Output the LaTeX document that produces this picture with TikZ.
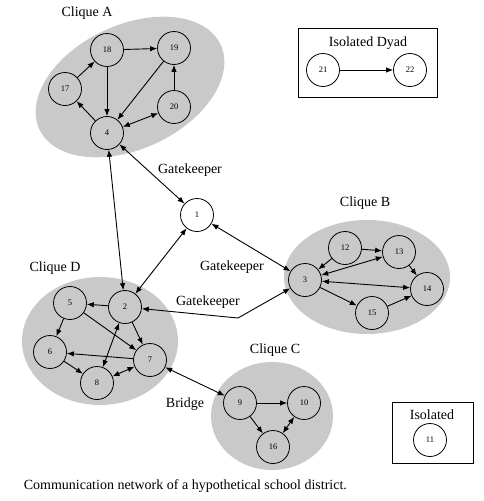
\documentclass[tikz,border=0pt]{standalone}
\usepackage{fontspec}
\setmainfont{Liberation Serif}
\usetikzlibrary{arrows.meta,shapes.geometric}

\begin{document}
\begin{tikzpicture}[x=1pt,y=-1pt,>={Latex[length=7pt,width=5.5pt]},line width=0.9pt,
  main node/.style={circle,draw,line width=0.8pt,minimum size=33pt,inner sep=0pt,font=\fontsize{8.5}{10}\selectfont},
  clique/.style={ellipse,fill=black!21,draw=none,inner sep=0pt},
  tag/.style={font=\fontsize{14}{16}\selectfont},
  framebox/.style={draw,line width=0.8pt,inner sep=0pt}]

  \useasboundingbox (0,0) rectangle (484,501);

  % cliques
  \node[clique,minimum width=200pt,minimum height=124pt,rotate=25] (cA) at (130,87) {};
  \node[clique,minimum width=166pt,minimum height=114pt] (cB) at (367,277) {};
  \node[clique,minimum width=122pt,minimum height=108pt] (cC) at (272,416) {};
  \node[clique,minimum width=156pt,minimum height=128pt] (cD) at (100,341) {};

  % boxes
  \node[framebox,minimum width=139pt,minimum height=69pt] (dyadbox) at (367.5,62.5) {};
  \node[framebox,minimum width=81pt,minimum height=61pt] (isobox) at (432.5,432.5) {};

  % labels
  \node[tag] (tA) at (87,13) {Clique A};
  \node[tag] (tB) at (365,203) {Clique B};
  \node[tag] (tC) at (275,350) {Clique C};
  \node[tag] (tD) at (55,268) {Clique D};
  \node[tag] (tdyad) at (368,43) {Isolated Dyad};
  \node[tag] (tiso) at (432,415) {Isolated};
  \node[tag] (gk1) at (190,170) {Gatekeeper};
  \node[tag] (gk2) at (232,267) {Gatekeeper};
  \node[tag] (gk3) at (208,302) {Gatekeeper};
  \node[tag] (brg) at (185,404) {Bridge};
  \node[tag,anchor=west] (caption) at (20,486) {Communication network of a hypothetical school district.};

  % nodes
  \node[main node] (1) at (197,215) {1};
  \node[main node] (2) at (125,307) {2};
  \node[main node] (3) at (305,280) {3};
  \node[main node] (4) at (107,133) {4};
  \node[main node] (5) at (70,303) {5};
  \node[main node] (6) at (50,352) {6};
  \node[main node] (7) at (150,360) {7};
  \node[main node] (8) at (97,383) {8};
  \node[main node] (9) at (240,403) {9};
  \node[main node] (10) at (304,403) {10};
  \node[main node] (11) at (430,440) {11};
  \node[main node] (12) at (345,248) {12};
  \node[main node] (13) at (399,252) {13};
  \node[main node] (14) at (427,289) {14};
  \node[main node] (15) at (372,313) {15};
  \node[main node] (16) at (273,447) {16};
  \node[main node] (17) at (65,89) {17};
  \node[main node] (18) at (107,50) {18};
  \node[main node] (19) at (174,48) {19};
  \node[main node] (20) at (174,107) {20};
  \node[main node] (21) at (323,70) {21};
  \node[main node] (22) at (410,70) {22};

  \coordinate (bend) at (238,318);

  \path[->]
    (17) edge (18)
    (18) edge (19)
    (18) edge (4)
    (19) edge (4)
    (20) edge (19)
    (4) edge[<->] (20)
    (4) edge (17)
    (4) edge[<->] (2)
    (4) edge[<->] (1)
    (2) edge[<->] (1)
    (1) edge[<->] (3)
    (12) edge (13)
    (12) edge (3)
    (13) edge[<->] (3)
    (13) edge (14)
    (3) edge[<->] (14)
    (3) edge (15)
    (15) edge (14)
    (2) edge (5)
    (5) edge (6)
    (5) edge (7)
    (2) edge (7)
    (7) edge (6)
    (6) edge (8)
    (8) edge[<->] (7)
    (2) edge[<->] (8)
    (7) edge[<->] (9)
    (9) edge (10)
    (9) edge (16)
    (10) edge[<->] (16)
    (21) edge (22)
  ;
  \draw[<->] (2) -- (bend) -- (3);
\end{tikzpicture}
\end{document}
